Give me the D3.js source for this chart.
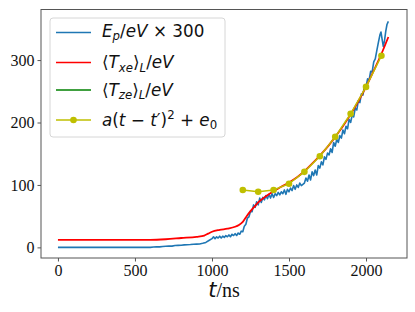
<!DOCTYPE html>
<html>
<head>
<meta charset="utf-8">
<script src="https://cdn.jsdelivr.net/npm/d3@7"></script>
<style>
  body { margin: 0; background: #fff; }
</style>
</head>
<body>
<svg width="415" height="312"></svg>
<script>
// valeurs
const xTicks = [0, 500, 1000, 1500, 2000];
const yTicks = [0, 100, 200, 300];

// E_p x 300 (bleu, bruité)
const blueT = [0, 600, 620, 640, 660, 680, 700, 720, 740, 760, 780, 800, 820, 840, 860, 880, 900, 920, 940, 960, 980,
  1000, 1010, 1020, 1030, 1040, 1050, 1060, 1070, 1080, 1090,
  1100, 1110, 1120, 1130, 1140, 1150, 1160, 1170, 1180, 1190,
  1200, 1210, 1220, 1230, 1240, 1250, 1260, 1270, 1280, 1290,
  1300, 1310, 1320, 1330, 1340, 1350, 1360, 1370, 1380, 1390,
  1400, 1410, 1420, 1430, 1440, 1450, 1460, 1470, 1480, 1490,
  1500, 1510, 1520, 1530, 1540, 1550, 1560, 1570, 1580, 1590,
  1600, 1610, 1620, 1630, 1640, 1650, 1660, 1670, 1680, 1690,
  1700, 1710, 1720, 1730, 1740, 1750, 1760, 1770, 1780, 1790,
  1800, 1810, 1820, 1830, 1840, 1850, 1860, 1870, 1880, 1890,
  1900, 1910, 1920, 1930, 1940, 1950, 1960, 1970, 1980, 1990,
  2000, 2010, 2020, 2030, 2040, 2050, 2060, 2070, 2080, 2090,
  2097, 2104, 2112, 2120, 2128, 2136, 2145];
const blueV = [0, 0, 0.5, 1, 0.8, 1.5, 1.8, 2.2, 2, 3, 3.2, 3.5, 4, 4.2, 4.5, 5, 5.3, 5.5, 6.5, 8, 11,
  14, 17, 14, 17, 15, 18, 15, 18, 16, 19,
  17, 20, 17, 21, 19, 22, 19, 23, 21, 26,
  25, 34, 37, 47, 49, 58, 57, 68, 64, 73,
  68, 79, 72, 80, 76, 83, 78, 85, 79, 86,
  80, 86, 83, 88, 84, 89, 86, 92, 85, 93,
  89, 95, 91, 99, 93, 100, 96, 103, 99, 101,
  103, 111, 106, 116, 108, 121, 115, 124, 116, 131,
  127, 137, 132, 145, 141, 151, 148, 158, 152, 168,
  162, 173, 168, 179, 175, 188, 182, 194, 190, 205,
  200, 212, 209, 223, 220, 235, 232, 246, 244, 259,
  257, 270, 268, 282, 281, 297, 302, 315, 328, 340,
  345, 334, 322, 331, 346, 357, 362];

// <T_xe>_L (rouge)
const redT = [0, 600, 700, 800, 900, 950, 975, 1000, 1050, 1100, 1150, 1175, 1200, 1225, 1250, 1275, 1300,
  1350, 1400, 1450, 1500, 1550, 1600, 1650, 1700, 1750, 1800, 1850, 1900, 1950, 2000, 2050, 2100, 2145];
const redV = [12, 12, 13, 15, 17, 19, 22, 25, 28, 30, 33, 36, 41, 50, 58, 65, 72,
  82, 90, 97, 104, 112, 122, 134, 147, 161, 177, 194, 213, 234, 257, 283, 310, 337];

// <T_ze>_L (vert) : caché, rien de visible sur l'image
const greenT = [];
const greenV = [];

// a(t-t')^2 + e0 (jaune, avec points)
const fitT = [1200, 1300, 1400, 1500, 1600, 1700, 1800, 1900, 2000, 2100];
const fitV = [92, 89, 92, 102, 121, 146, 177, 214, 257, 307];

const svg = d3.select("svg");
const mLeft = 41, mRight = 407, mTop = 9.5, mBottom = 258;

const x = d3.scaleLinear().domain([-110, 2266]).range([mLeft, mRight]);
const y = d3.scaleLinear().domain([-17, 381]).range([mBottom, mTop]);

const serif = "'Liberation Serif', 'Times New Roman', serif";
const sans = "'DejaVu Sans', sans-serif";

const line = d3.line().x(d => x(d[0])).y(d => y(d[1]));
const zip = (a, b) => a.map((t, i) => [t, b[i]]);

const plot = svg.append("g");

plot.append("path").datum(zip(blueT, blueV))
  .attr("fill", "none").attr("stroke", "#1f77b4").attr("stroke-width", 1.6)
  .attr("stroke-linejoin", "round").attr("d", line);

plot.append("path").datum(zip(greenT, greenV))
  .attr("fill", "none").attr("stroke", "green").attr("stroke-width", 1.5).attr("d", line);

plot.append("path").datum(zip(redT, redV))
  .attr("fill", "none").attr("stroke", "red").attr("stroke-width", 1.8)
  .attr("d", line.curve(d3.curveMonotoneX));
line.curve(d3.curveLinear);

plot.append("path").datum(zip(fitT, fitV))
  .attr("fill", "none").attr("stroke", "#bfbf00").attr("stroke-width", 1.5).attr("d", line);
plot.selectAll(".pt").data(zip(fitT, fitV)).enter().append("circle")
  .attr("cx", d => x(d[0])).attr("cy", d => y(d[1])).attr("r", 3.3)
  .attr("fill", "#bfbf00");

// cadre
svg.append("rect").attr("x", mLeft).attr("y", mTop)
  .attr("width", mRight - mLeft).attr("height", mBottom - mTop)
  .attr("fill", "none").attr("stroke", "#555").attr("stroke-width", 1);

// axes
const xAxis = svg.append("g").attr("transform", "translate(0," + mBottom + ")")
  .call(d3.axisBottom(x).tickValues(xTicks).tickSize(3.5).tickPadding(3).tickFormat(d3.format("d")));
const yAxis = svg.append("g").attr("transform", "translate(" + mLeft + ",0)")
  .call(d3.axisLeft(y).tickValues(yTicks).tickSize(3.5).tickPadding(3).tickFormat(d3.format("d")));
[xAxis, yAxis].forEach(a => {
  a.select(".domain").remove();
  a.selectAll("line").attr("stroke", "#555");
  a.selectAll("text").attr("font-family", serif).attr("font-size", 16).attr("fill", "#111");
});

// titre axe x : t/ns
const xl = svg.append("text").attr("x", (mLeft + mRight) / 2).attr("y", 297)
  .attr("text-anchor", "middle").attr("fill", "#111");
xl.append("tspan").attr("font-family", sans).attr("font-style", "italic").attr("font-size", 21).text("t");
xl.append("tspan").attr("font-family", serif).attr("font-size", 20).text("/ns");

// légende
const leg = svg.append("g");
leg.append("rect").attr("x", 50).attr("y", 18).attr("width", 175).attr("height", 119)
  .attr("rx", 3).attr("fill", "#fff").attr("fill-opacity", 0.8)
  .attr("stroke", "#d6d6d6").attr("stroke-width", 1);

const legendLabels = [
  [["E", "i"], ["p", "i", "sub"], ["/"], ["eV", "i"], [" × 300"]],
  [["⟨"], ["T", "i"], ["xe", "i", "sub"], ["⟩"], ["L", "i", "sub"], ["/"], ["eV", "i"]],
  [["⟨"], ["T", "i"], ["ze", "i", "sub"], ["⟩"], ["L", "i", "sub"], ["/"], ["eV", "i"]],
  [["a", "i"], ["("], ["t", "i"], [" − "], ["t", "i"], ["′)"], ["2", "", "sup"], [" + "], ["e", "i"], ["0", "", "sub"]]
];
const legendColors = ["#1f77b4", "red", "green", "#bfbf00"];
const rowY = [32.5, 62.5, 90, 120];
const baseOff = [4, 5.5, 5.5, 5.5];
const fs = 16.8;

legendLabels.forEach((segs, i) => {
  const yy = rowY[i];
  leg.append("line").attr("x1", 56).attr("x2", 91).attr("y1", yy).attr("y2", yy)
    .attr("stroke", legendColors[i]).attr("stroke-width", 1.5);
  if (i === 3) {
    leg.append("circle").attr("cx", 73.5).attr("cy", yy).attr("r", 3.3).attr("fill", legendColors[i]);
  }
  const t = leg.append("text").attr("x", 102).attr("y", yy + baseOff[i])
    .attr("font-family", sans).attr("font-size", fs).attr("fill", "#111");
  let shift = 0;
  segs.forEach(s => {
    const sp = t.append("tspan").text(s[0]);
    if (s[1] === "i") sp.attr("font-style", "italic");
    let target = 0;
    if (s[2] === "sub") { target = 0.22 * fs; sp.attr("font-size", fs * 0.7); }
    if (s[2] === "sup") { target = -0.4 * fs; sp.attr("font-size", fs * 0.7); }
    sp.attr("dy", target - shift);
    shift = target;
  });
});
</script>
</body>
</html>
